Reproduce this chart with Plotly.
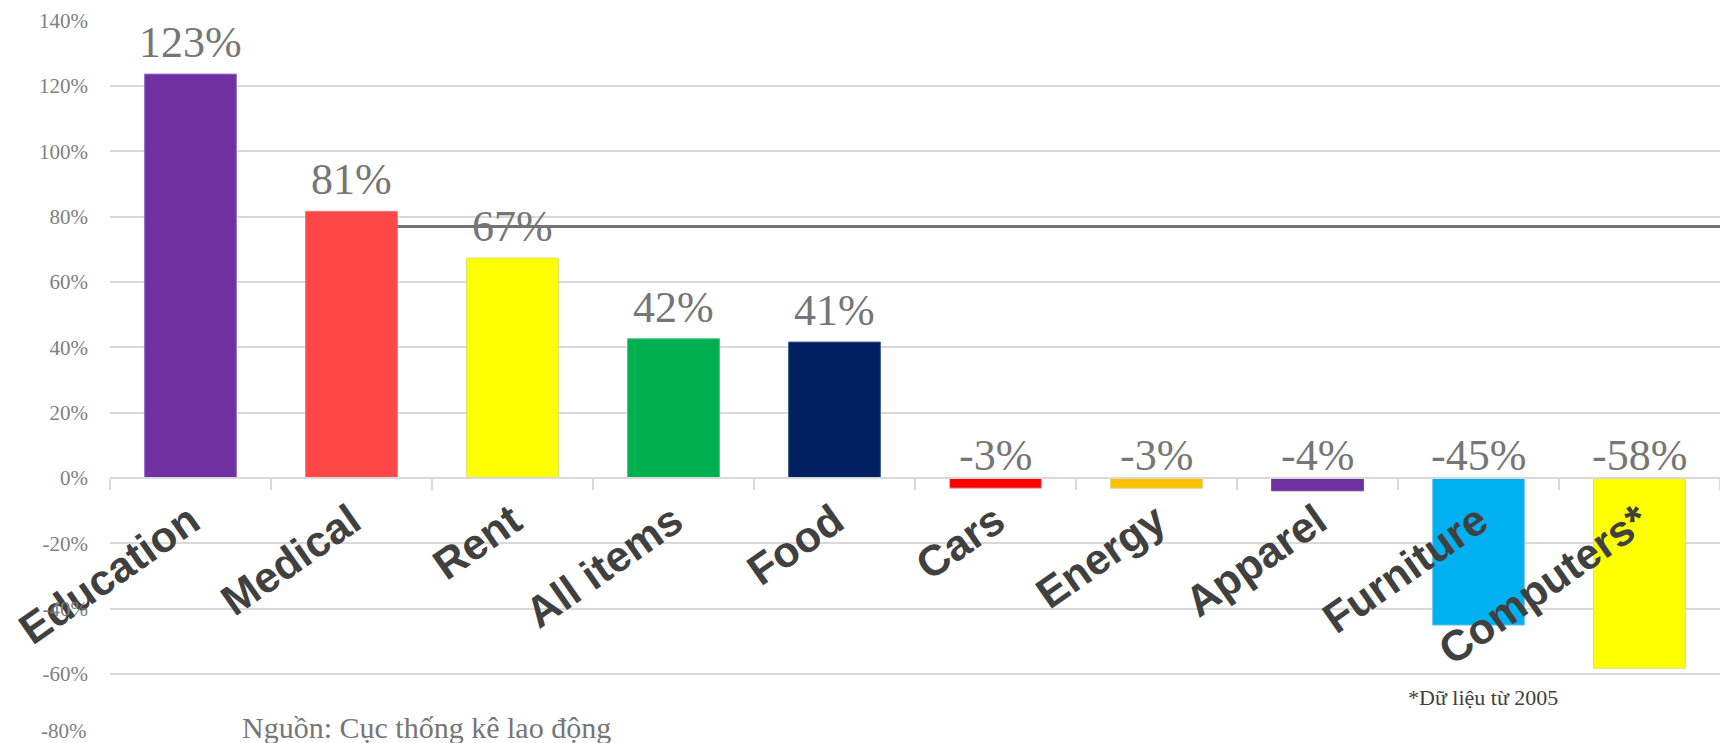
import plotly.graph_objects as go

categories = ["Education", "Medical", "Rent", "All items", "Food", "Cars", "Energy", "Apparel", "Furniture", "Computers*"]
values = [123.6, 81.6, 67.3, 42.6, 41.6, -3.1, -3.1, -3.9, -45.0, -58.2]
labels = ["123%", "81%", "67%", "42%", "41%", "-3%", "-3%", "-4%", "-45%", "-58%"]
colors = ["#7030A0", "#FF4747", "#FFFF00", "#00B050", "#002060", "#FF0000", "#FFC000", "#7030A0", "#00B0F0", "#FFFF00"]
outline_colors = ["#8F72C9", "#E8797B", "#D6E36A", "#3FBF7F", "#3A5A8F", "#F5A0A0", "#D8D87A", "#5A4AA0", "#6FC8E8", "#D6E36A"]
y_ticks = [-80, -60, -40, -20, 0, 20, 40, 60, 80, 100, 120, 140]
y_tick_labels = ["-80%", "-60%", "-40%", "-20%", "0%", "20%", "40%", "60%", "80%", "100%", "120%", "140%"]
y_range = [-80.15, 140.15]
ref_line_value = 77
source_text = "Nguồn: Cục thống kê lao động"
note_text = "*Dữ liệu từ 2005"

bargap = 0.43
ytick_font = dict(family="Liberation Serif", size=21, color="#808080")

fig = go.Figure()
fig.add_trace(go.Bar(
    x=categories, y=values,
    marker=dict(color=colors, line=dict(color=outline_colors, width=1)),
    hoverinfo="skip",
))

annotations = []
for i, (c, v, t) in enumerate(zip(categories, values, labels)):
    annotations.append(dict(
        x=c, y=max(v, 0), xref="x", yref="y", text=t, showarrow=False,
        yanchor="bottom", xanchor="center", yshift=5 if v > 0 else -4,
        font=dict(family="Liberation Serif", size=44, color="#767676"),
    ))
annotations.append(dict(
    x=0.081, y=0.0, xref="paper", yref="paper", text=source_text, showarrow=False,
    xanchor="left", yanchor="middle", yshift=13,
    font=dict(family="Liberation Serif", size=30, color="#767676"),
))
annotations.append(dict(
    x=0.081, y=0.0, xref="paper", yref="paper", text=note_text, showarrow=False,
    xanchor="left", yanchor="middle", yshift=43, xshift=1166,
    font=dict(family="Liberation Serif", size=22, color="#404040"),
))
# bottom tick label lifted slightly so it stays inside the page (as in the reference)
annotations.append(dict(
    x=0, y=y_ticks[0], xref="paper", yref="y", text=y_tick_labels[0], showarrow=False,
    xanchor="right", yanchor="middle", xshift=-21, yshift=9, font=ytick_font,
))

half = (1 - bargap) / 2
fig.add_shape(type="line", xref="x", yref="y",
              x0=1 + half, x1=len(categories) - 0.5, y0=ref_line_value, y1=ref_line_value,
              line=dict(color="#737373", width=3), layer="above")

zero_pos = (0 - y_range[0]) / (y_range[1] - y_range[0])

fig.update_layout(
    width=1720, height=743,
    margin=dict(l=110, r=0, t=20, b=3),
    paper_bgcolor="white", plot_bgcolor="white",
    bargap=bargap,
    showlegend=False,
    annotations=annotations,
    xaxis=dict(
        anchor="free", position=zero_pos, automargin=False,
        range=[-0.5, len(categories) - 0.5],
        showgrid=False, showline=True, linecolor="#D9D9D9", linewidth=2,
        ticks="outside", tickson="boundaries", ticklen=11, tickcolor="#D9D9D9", tickwidth=2,
        tickangle=-35,
        tickfont=dict(family="Liberation Sans", size=43, color="#404040", weight="bold"),
        layer="above traces", ticklabeloverflow="allow",
    ),
    yaxis=dict(
        range=y_range, tickvals=y_ticks, ticktext=[""] + y_tick_labels[1:], automargin=False,
        showgrid=True, gridcolor="#D9D9D9", gridwidth=2,
        zeroline=False, showline=False,
        tickfont=ytick_font,
        ticklabelstandoff=21, ticklabeloverflow="allow",
    ),
)

fig.write_html("out.html", config={"displayModeBar": False},
               post_script="document.body.style.margin='0';document.body.style.overflow='hidden';")
